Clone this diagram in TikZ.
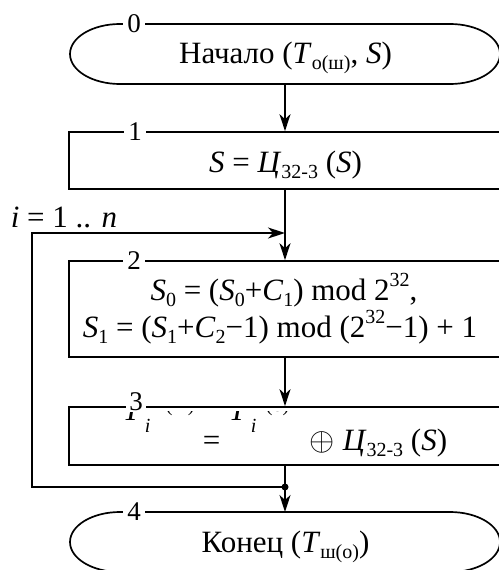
\documentclass[tikz,border=0pt]{standalone}
\usepackage{fontspec}
\setmainfont{Liberation Serif}
\usetikzlibrary{arrows.meta}
\newcommand\smallfs{\fontsize{20}{22}\selectfont}
\newcommand\mysub[1]{\raisebox{-0.2em}{\smallfs #1}}
\newcommand\mysup[1]{\raisebox{0.42em}{\smallfs #1}}
\begin{document}
\begin{tikzpicture}[x=1pt,y=-1pt,line width=1.7pt,
  every node/.style={inner sep=0pt,font=\fontsize{31}{36}\selectfont},
  box/.style={draw,minimum width=432pt},
  lbl/.style={fill=white,inner xsep=4pt,inner ysep=1pt,font=\fontsize{27}{30}\selectfont},
  txt/.style={anchor=base},
  arr/.style={-{Stealth[length=17pt,width=11pt,inset=5pt]}},
  dotst/.style={circle,fill=black,minimum size=7pt}]
\useasboundingbox (0,0) rectangle (498,570);

% terminal 0
\draw (120,24) -- (450,24) arc[start angle=-90,end angle=90,x radius=50,y radius=30]
  -- (120,84) arc[start angle=90,end angle=270,x radius=50,y radius=30] -- cycle;
\coordinate (t0s) at (285,84);
\node[txt] (t0) at (285.5,63) {Начало (\textit{T}\mysub{о(ш)}, \textit{S})};
\node[lbl] (l0) at (134,24) {0};

% box 1
\node[box,minimum height=57pt] (b1) at (285,160.5) {};
\node[txt] (b1t) at (285.5,172) {\textit{S} = \textit{Ц}\mysub{32-3} (\textit{S})};
\node[lbl] (l1) at (135,132) {1};

% box 2
\node[box,minimum height=96pt] (b2) at (285,309) {};
\node[txt] (b2a) at (284,300) {\textit{S}\mysub{0} = (\textit{S}\mysub{0}+\textit{C}\mysub{1}) mod 2\mysup{32},};
\node[txt] (b2b) at (280,337) {\textit{S}\mysub{1} = (\textit{S}\mysub{1}+\textit{C}\mysub{2}−1) mod (2\mysup{32}−1) + 1};
\node[lbl] (l2) at (134,261) {2};

% box 3
\node[box,minimum height=58pt] (b3) at (285,436) {};
\begin{scope}
  \clip (71,411.5) rectangle (500,464);
  \node[anchor=base west] (ta) at (122,420) {\textit{T}};
  \node[anchor=base west,font=\smallfs] (tai) at (144,432) {\textit{i}};
  \node[anchor=base west,font=\smallfs] (tas) at (165,411) {(ш)};
  \node[anchor=base west] (teq) at (202,450) {=};
  \node[anchor=base west] (tb) at (228,420) {\textit{T}};
  \node[anchor=base west,font=\smallfs] (tbi) at (250,432) {\textit{i}};
  \node[anchor=base west,font=\smallfs] (tbs) at (265,411) {(о)};
  \node[anchor=base west] (tc) at (309,450) {\scalebox{1.3}{$\oplus$} \textit{Ц}\mysub{32-3} (\textit{S})};
\end{scope}
\node[lbl,inner xsep=3pt] (l3) at (136,402) {3};

% terminal 4
\draw (120,512) -- (450,512) arc[start angle=-90,end angle=90,x radius=50,y radius=30]
  -- (120,572) arc[start angle=90,end angle=270,x radius=50,y radius=30] -- cycle;
\coordinate (t4n) at (285,512);
\node[txt] (t4) at (285.5,552) {Конец (\textit{T}\mysub{ш(о)})};
\node[lbl] (l4) at (134,512) {4};

% connectors
\coordinate (jin) at (285,233);
\coordinate (jout) at (285,487);
\coordinate (lc1) at (32,487);
\coordinate (lc2) at (32,233);
\draw[arr] (t0s) -- (b1.north -| t0s);
\draw[arr] (b1.south -| t0s) -- (b2.north -| t0s);
\draw[arr] (b2.south -| t0s) -- (b3.north -| t0s);
\draw[arr] (b3.south -| t0s) -- (t4n);
\draw[arr] (jout) -- (lc1) -- (lc2) -- (jin);
\node[dotst] (dot) at (jout) {};
\node[anchor=base west] (loop) at (10,227) {\textit{i} = 1 .. \textit{n}};
\end{tikzpicture}
\end{document}
